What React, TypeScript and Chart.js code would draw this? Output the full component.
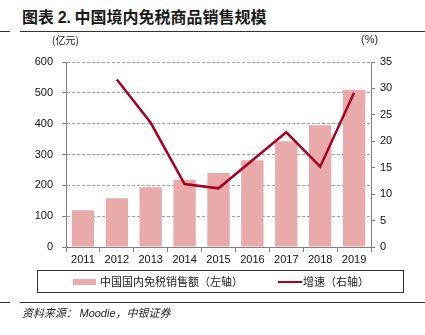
import React, { useEffect, useRef } from "react";
import { Chart, registerables } from "chart.js";

Chart.register(...registerables);

const years = ["2011", "2012", "2013", "2014", "2015", "2016", "2017", "2018", "2019"];
const salesValues = [119, 158, 194, 218, 240, 281, 343, 395, 510];
const growthValues = [null, 31.7, 23.5, 11.9, 11.1, 16.4, 21.7, 15.2, 29.2];
const leftTicks = [0, 100, 200, 300, 400, 500, 600];
const rightTicks = [0, 5, 10, 15, 20, 25, 30, 35];

const BAR_COLOR = "#E8AAAA";
const LINE_COLOR = "#A8001E";
const AXIS_FONT = "'Liberation Sans', Arial, sans-serif";
const CJK = "'Noto Sans CJK SC', sans-serif";

export default function App() {
  const ref = useRef<HTMLCanvasElement | null>(null);

  useEffect(() => {
    if (!ref.current) return;
    const chart = new Chart(ref.current, {
      type: "bar",
      data: {
        labels: years,
        datasets: [
          {
            type: "line",
            label: "增速（右轴）",
            data: growthValues,
            borderColor: LINE_COLOR,
            backgroundColor: LINE_COLOR,
            borderWidth: 2.5,
            pointRadius: 0,
            tension: 0,
            yAxisID: "y1",
            order: 0,
          } as any,
          {
            type: "bar",
            label: "中国国内免税销售额（左轴）",
            data: salesValues,
            backgroundColor: BAR_COLOR,
            borderWidth: 0,
            categoryPercentage: 0.66,
            barPercentage: 1,
            yAxisID: "y",
            order: 1,
          },
        ],
      },
      options: {
        responsive: false,
        animation: false,
        layout: { padding: { top: 62, left: 0, right: 0, bottom: 68 } },
        plugins: { legend: { display: false }, tooltip: { enabled: false } },
        scales: {
          x: {
            grid: {
              display: true,
              drawOnChartArea: false,
              tickLength: 5,
              color: "#808080",
              offset: true,
            },
            border: { color: "#808080", width: 1 },
            ticks: {
              color: "#111",
              font: { family: AXIS_FONT, size: 11 },
              padding: 1,
              maxRotation: 0,
            },
            afterFit: (s: any) => {
              s.height = 20;
            },
          },
          y: {
            position: "left",
            min: 0,
            max: 600,
            afterBuildTicks: (s: any) => {
              s.ticks = leftTicks.map((v) => ({ value: v }));
            },
            grid: {
              color: "#A0A0A0",
              tickColor: "#808080",
              tickLength: 4,
              drawOnChartArea: true,
            },
            border: { color: "#808080", width: 1, dash: [3, 2] },
            ticks: {
              color: "#111",
              font: { family: AXIS_FONT, size: 11 },
              padding: 9,
            },
            afterFit: (s: any) => {
              s.width = 66;
            },
          },
          y1: {
            position: "right",
            min: 0,
            max: 35,
            afterBuildTicks: (s: any) => {
              s.ticks = rightTicks.map((v) => ({ value: v }));
            },
            grid: {
              drawOnChartArea: false,
              tickColor: "#808080",
              tickLength: 4,
            },
            border: { color: "#808080", width: 1 },
            ticks: {
              color: "#111",
              font: { family: AXIS_FONT, size: 11 },
              padding: 5,
            },
            afterFit: (s: any) => {
              s.width = 54;
            },
          },
        },
      },
    });
    return () => chart.destroy();
  }, []);

  return (
    <div
      style={{
        position: "absolute",
        left: 0,
        top: 0,
        width: 425,
        height: 335,
        background: "#fff",
        overflow: "hidden",
        fontFamily: CJK,
      }}
    >
      <div
        style={{
          position: "absolute",
          left: 22,
          top: 6,
          fontSize: 16,
          fontWeight: "bold",
          color: "#1a1a1a",
          lineHeight: "21px",
          whiteSpace: "nowrap",
        }}
      >
        图表 <span style={{ fontFamily: "'Liberation Sans', Arial, sans-serif" }}>2.</span> 中国境内免税商品销售规模
      </div>
      <div style={{ position: "absolute", left: 0, top: 31, width: 10, height: 1, background: "#333" }} />
      <div style={{ position: "absolute", left: 20, top: 31, width: 405, height: 1, background: "#333" }} />

      <canvas ref={ref} width={425} height={335} style={{ position: "absolute", left: 0, top: 0 }} />

      <div
        style={{
          position: "absolute",
          left: 52,
          top: 33,
          fontSize: 10,
          color: "#222",
          lineHeight: "14px",
          whiteSpace: "nowrap",
        }}
      >
        (亿元)
      </div>
      <div
        style={{
          position: "absolute",
          left: 361,
          top: 32,
          fontSize: 11,
          color: "#222",
          lineHeight: "14px",
          fontFamily: "'Liberation Sans', Arial, sans-serif",
        }}
      >
        (%)
      </div>

      <div
        style={{
          position: "absolute",
          left: 37,
          top: 270,
          width: 365,
          height: 21,
          border: "1px solid #333",
        }}
      />
      <div style={{ position: "absolute", left: 73, top: 279, width: 23, height: 6, background: BAR_COLOR }} />
      <div
        style={{
          position: "absolute",
          left: 100,
          top: 274,
          fontSize: 11,
          lineHeight: "14px",
          color: "#222",
          whiteSpace: "nowrap",
        }}
      >
        中国国内免税销售额（左轴）
      </div>
      <div style={{ position: "absolute", left: 278, top: 281, width: 24, height: 2, background: LINE_COLOR }} />
      <div
        style={{
          position: "absolute",
          left: 303,
          top: 274,
          fontSize: 11,
          lineHeight: "14px",
          color: "#222",
          whiteSpace: "nowrap",
        }}
      >
        增速（右轴）
      </div>

      <div style={{ position: "absolute", left: 0, top: 302, width: 10, height: 1, background: "#333" }} />
      <div style={{ position: "absolute", left: 20, top: 302, width: 405, height: 1, background: "#333" }} />
      <div
        style={{
          position: "absolute",
          left: 22,
          top: 305,
          fontSize: 11,
          lineHeight: "15px",
          fontStyle: "italic",
          color: "#222",
          whiteSpace: "nowrap",
        }}
      >
        资料来源： <span style={{ fontFamily: "'Liberation Sans', Arial, sans-serif" }}>Moodie</span>，中银证券
      </div>
    </div>
  );
}
